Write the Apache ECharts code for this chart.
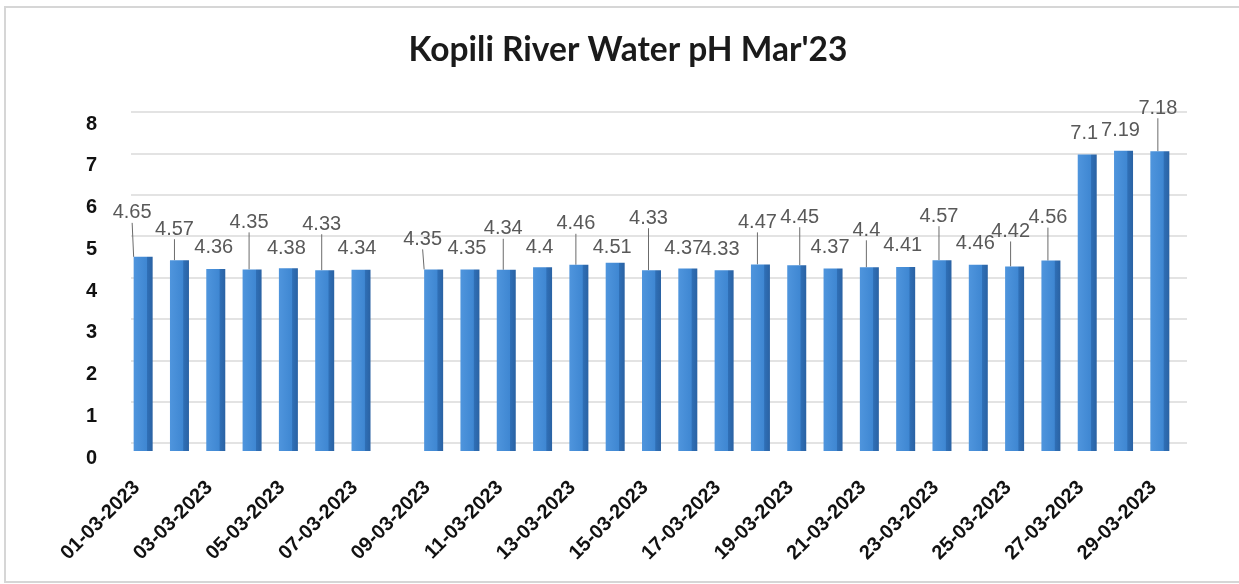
<!DOCTYPE html>
<html>
<head>
<meta charset="utf-8">
<script src="https://cdn.jsdelivr.net/npm/echarts@6/dist/echarts.min.js"></script>
<style>
  html, body { margin: 0; padding: 0; background: #ffffff; }
  #chart { width: 1239px; height: 584px; }
</style>
</head>
<body>
<div id="chart"></div>
<script>
// Daily pH readings of the Kopili river, March 2023 (no reading on 08-03)
const dates = [
  '01-03-2023', '02-03-2023', '03-03-2023', '04-03-2023', '05-03-2023',
  '06-03-2023', '07-03-2023', '08-03-2023', '09-03-2023', '10-03-2023',
  '11-03-2023', '12-03-2023', '13-03-2023', '14-03-2023', '15-03-2023',
  '16-03-2023', '17-03-2023', '18-03-2023', '19-03-2023', '20-03-2023',
  '21-03-2023', '22-03-2023', '23-03-2023', '24-03-2023', '25-03-2023',
  '26-03-2023', '27-03-2023', '28-03-2023', '29-03-2023'
];
const phValues = [
  4.65, 4.57, 4.36, 4.35, 4.38, 4.33, 4.34, null, 4.35, 4.35,
  4.34, 4.4, 4.46, 4.51, 4.33, 4.37, 4.33, 4.47, 4.45, 4.37,
  4.4, 4.41, 4.57, 4.46, 4.42, 4.56, 7.1, 7.19, 7.18
];
const yTicks = [0, 1, 2, 3, 4, 5, 6, 7, 8];

// Label nudges [dx, dy, leader line] relative to the default spot above each bar
const labelShift = [
  [-11, -29, 1], [-5, -16, 1], [-2, -6, 0], [-3, -32, 1], [-2, -5, 0],
  [-3, -31, 1], [-4, -6, 0], [0, 0, 0], [-11, -15, 1], [-3, -6, 0],
  [-3, -26, 1], [-3, -5, 0], [-3, -26, 1], [-3, 0, 0], [-3, -37, 1],
  [-4, -5, 0], [-4, -6, 0], [-3, -27, 1], [3, -33, 1], [-3, -6, 0],
  [-3, -22, 1], [-3, -6, 0], [-3, -29, 1], [-3, -6, 0], [-4, -20, 1],
  [-3, -28, 1], [-3, -6, 0], [-3, -5, 0], [-2, -28, 1]
];

const barFill = new echarts.graphic.LinearGradient(0, 0, 1, 0, [
  { offset: 0, color: '#4f95dd' },
  { offset: 0.68, color: '#3f87d2' },
  { offset: 0.72, color: '#2f6fb6' },
  { offset: 1, color: '#2a62a3' }
]);

const yMin = yTicks[0];
const yMax = yTicks[yTicks.length - 1];

const chart = echarts.init(document.getElementById('chart'), null, { renderer: 'canvas' });

chart.setOption({
  backgroundColor: '#ffffff',
  animation: false,
  graphic: [{
    type: 'rect',
    silent: true,
    shape: { x: 5, y: 7, width: 1250, height: 575 },
    style: { fill: 'none', stroke: '#d6d6d6', lineWidth: 2 }
  }, {
    type: 'text',
    silent: true,
    x: 628,
    y: 50,
    style: {
      text: "Kopili River Water pH Mar'23",
      align: 'center',
      verticalAlign: 'middle',
      fontFamily: 'Lato',
      fontWeight: 'bold',
      fontSize: 33.5,
      fill: '#1a1a1a'
    }
  }],
  grid: [
    // bars and date labels
    { left: 125, right: 61, top: 117, bottom: 133 },
    // back-wall gridlines, set slightly up and to the right
    { left: 131, right: 52, top: 112, bottom: 141 },
    // value labels on the front edge
    { left: 125, right: 61, top: 124, bottom: 126 }
  ],
  xAxis: [{
    type: 'category',
    gridIndex: 0,
    data: dates,
    axisLine: { show: false },
    axisTick: { show: false },
    axisLabel: {
      interval: 1,
      rotate: 45,
      margin: 27,
      padding: [0, 9, 0, 0],
      fontFamily: 'Liberation Sans',
      fontWeight: 'bold',
      fontSize: 20,
      color: '#111111'
    }
  }, {
    type: 'category',
    gridIndex: 1,
    data: dates,
    show: false
  }, {
    type: 'category',
    gridIndex: 2,
    data: dates,
    show: false
  }],
  yAxis: [{
    type: 'value',
    gridIndex: 0,
    min: yMin,
    max: yMax,
    interval: 1,
    show: false,
    splitLine: { show: false }
  }, {
    type: 'value',
    gridIndex: 1,
    min: yMin,
    max: yMax,
    interval: 1,
    axisLine: { show: false },
    axisTick: { show: false },
    axisLabel: { show: false },
    splitLine: { show: true, lineStyle: { color: '#dadada', width: 1.5 } }
  }, {
    type: 'value',
    gridIndex: 2,
    min: yMin,
    max: yMax,
    interval: 1,
    axisLine: { show: false },
    axisTick: { show: false },
    splitLine: { show: false },
    axisLabel: {
      margin: 28,
      fontFamily: 'Liberation Sans',
      fontWeight: 'bold',
      fontSize: 20,
      color: '#111111'
    }
  }],
  series: [{
    type: 'bar',
    xAxisIndex: 0,
    yAxisIndex: 0,
    barWidth: 19,
    data: phValues.map((v, i) => ({
      value: v,
      labelLine: { show: labelShift[i][2] === 1 }
    })),
    itemStyle: { color: barFill },
    label: {
      show: true,
      position: 'top',
      distance: 5,
      fontFamily: 'Liberation Sans',
      fontSize: 20,
      color: '#595959'
    },
    labelLayout: function (p) {
      const s = labelShift[p.dataIndex];
      return { dx: s[0], dy: s[1] };
    },
    labelLine: {
      show: false,
      lineStyle: { color: '#6b6b6b', width: 1 }
    }
  }]
});
</script>
</body>
</html>
